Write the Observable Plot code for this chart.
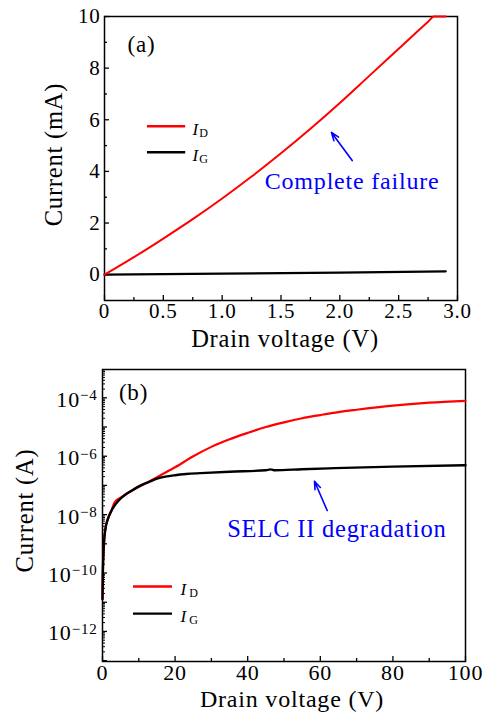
<!DOCTYPE html>
<html><head><meta charset="utf-8">
<script src="https://cdn.jsdelivr.net/npm/d3@7"></script>
<script src="https://cdn.jsdelivr.net/npm/@observablehq/plot@0.6"></script>
<style>
body{margin:0;background:#fff;}
#chart{width:486px;height:712px;overflow:hidden;}
#chart svg{display:block;}
</style></head><body><div id="chart"></div>
<script>
// ---------- Panel (a) data: linear current in mA ----------
const voltageA_D = [0, 0.25, 0.5, 0.75, 1.0, 1.25, 1.5, 1.75, 2.0, 2.25, 2.5, 2.75, 2.8, 2.9];
const currentA_D = [0, 0.68, 1.4, 2.15, 2.95, 3.8, 4.7, 5.65, 6.65, 7.7, 8.75, 9.8, 10, 10];
const voltageA_G = [0, 1.0, 2.0, 2.9];
const currentA_G = [0, 0.04, 0.08, 0.13];
const xTicksA = [0, 0.5, 1.0, 1.5, 2.0, 2.5, 3.0];
const xMinorA = [0.25, 0.75, 1.25, 1.75, 2.25, 2.75];
const yTicksA = [0, 2, 4, 6, 8, 10];
const yMinorA = [1, 3, 5, 7, 9];

// ---------- Panel (b) data: log current in A ----------
const voltageB_D = [0, 0.1, 0.3, 0.6, 1.0, 1.6, 2.2, 3.3, 5, 8, 12, 16, 20, 25, 30, 35, 40, 45, 50, 55, 60, 65, 70, 80, 90, 100];
const currentB_D = [1.3e-11, 1e-10, 5e-10, 2e-9, 4.5e-9, 7.9e-9, 1.12e-8, 2.6e-8, 3.8e-8, 6.6e-8, 1.2e-7, 2.24e-7, 4.17e-7, 1.0e-6, 2.09e-6, 3.8e-6, 6.3e-6, 1.0e-5, 1.45e-5, 2.0e-5, 2.57e-5, 3.24e-5, 3.9e-5, 5.4e-5, 6.8e-5, 7.9e-5];
const voltageB_G = [0, 0.1, 0.28, 0.73, 1.65, 3.0, 4.4, 6, 8, 10, 12.7, 15, 17.3, 20, 23, 27, 35, 45, 46.3, 47.5, 55, 64, 80, 100];
const currentB_G = [1.3e-11, 1e-10, 5.9e-10, 2.8e-9, 8.1e-9, 1.78e-8, 3.0e-8, 4.5e-8, 6.6e-8, 9.3e-8, 1.3e-7, 1.7e-7, 2.0e-7, 2.24e-7, 2.45e-7, 2.63e-7, 2.95e-7, 3.3e-7, 3.55e-7, 3.3e-7, 3.6e-7, 3.9e-7, 4.4e-7, 4.9e-7];
const xTicksB = [0, 20, 40, 60, 80, 100];
const xMinorB = [10, 30, 50, 70, 90];
const yDecadesB = [-13, -12, -11, -10, -9, -8, -7, -6, -5, -4];
const yLabeledB = [-12, -10, -8, -6, -4];

// ---------- texts ----------
const xTitle = "Drain voltage (V)";
const yTitleA = "Current (mA)";
const yTitleB = "Current (A)";
const panelA = "(a)", panelB = "(b)";
const noteA = "Complete failure";
const noteB = "SELC II degradation";
const seriesNames = ["D", "G"];
const seriesColors = ["#ff0000", "#000000"];

const FONT = "Liberation Serif";
const BLUE = "#0000ff";

const rows = (xs, ys) => xs.map((x, i) => ({x, y: ys[i]}));

function legendMarks(xStart, xEnd, yVals, labelX, subX) {
  const items = seriesNames.map((s, i) => ({s, c: seriesColors[i], y: yVals[i]}));
  return [
    Plot.ruleY(items, {y: "y", x1: xStart, x2: xEnd, stroke: "c", strokeWidth: 2.4}),
    Plot.text(items, {x: labelX, y: "y", text: () => "I", fontStyle: "italic", fontSize: 17, textAnchor: "start", lineAnchor: "middle", dy: 3, fill: "black"}),
    Plot.text(items, {x: subX, y: "y", text: "s", fontSize: 12, textAnchor: "start", lineAnchor: "middle", dy: 7, fill: "black"})
  ];
}

// ----- Panel (a) -----
const plotA = Plot.plot({
  width: 486, height: 356,
  marginTop: 16, marginRight: 29, marginBottom: 56, marginLeft: 104,
  style: {fontFamily: FONT, fontSize: "21px", background: "white", color: "black", overflow: "visible", letterSpacing: "0.8px"},
  x: {domain: [0, 3]},
  y: {domain: [-1, 10]},
  marks: [
    Plot.frame({stroke: "black", strokeWidth: 1.5}),
    Plot.axisX({ticks: xTicksA, tickSize: 0, tickPadding: 3, tickFormat: d => d === 0 ? "0" : d.toFixed(1), label: null}),
    Plot.axisX({ticks: xTicksA, tickSize: -5, tickFormat: () => "", label: null, strokeWidth: 1.3}),
    Plot.axisX({ticks: xMinorA, tickSize: -3, tickFormat: () => "", label: null, strokeWidth: 1.3}),
    Plot.axisY({ticks: yTicksA, tickSize: 0, tickPadding: 4, tickFormat: d => String(d), label: null}),
    Plot.axisY({ticks: yTicksA, tickSize: -5, tickFormat: () => "", label: null, strokeWidth: 1.3}),
    Plot.axisY({ticks: yMinorA, tickSize: -3, tickFormat: () => "", label: null, strokeWidth: 1.3}),
    Plot.line(rows(voltageA_G, currentA_G), {x: "x", y: "y", stroke: "#000", strokeWidth: 2.2}),
    Plot.line(rows(voltageA_D, currentA_D), {x: "x", y: "y", stroke: "#ff0000", strokeWidth: 2, curve: "monotone-x"}),
    Plot.text([panelA], {x: 0.314, y: 8.9, text: d => d, fontSize: 23, fill: "black"}),
    Plot.text([noteA], {x: 1.362, y: 3.61, text: d => d, fontSize: 24, textAnchor: "start", fill: BLUE}),
    Plot.arrow([0], {x1: 2.105, y1: 4.42, x2: 1.929, y2: 5.51, stroke: BLUE, strokeWidth: 1.6, headLength: 8, headAngle: 40}),
    ...legendMarks(0.365, 0.69, [5.75, 4.74], 0.748, 0.805),
    Plot.text([xTitle], {frameAnchor: "bottom", lineAnchor: "middle", textAnchor: "middle", dy: 39, dx: 4, text: d => d, fontSize: 24.5, fill: "black"}),
    Plot.text([yTitleA], {frameAnchor: "left", lineAnchor: "middle", textAnchor: "middle", dx: -50, dy: -4, rotate: -90, text: d => d, fontSize: 24.5, fill: "black"})
  ]
});

// ----- Panel (b) -----
const plotB = Plot.plot({
  width: 486, height: 356,
  marginTop: 13, marginRight: 21, marginBottom: 51, marginLeft: 102,
  style: {fontFamily: FONT, fontSize: "22px", background: "white", color: "black", overflow: "visible", letterSpacing: "0.8px"},
  x: {domain: [0, 100]},
  y: {type: "log", domain: [Math.pow(10, -13.03), Math.pow(10, -3.03)]},
  marks: [
    Plot.frame({stroke: "black", strokeWidth: 1.5}),
    Plot.axisX({ticks: xTicksB, tickSize: 0, tickPadding: 3, tickFormat: d => String(d), label: null}),
    Plot.axisX({ticks: xTicksB, tickSize: -5, tickFormat: () => "", label: null, strokeWidth: 1.3}),
    Plot.axisX({ticks: xMinorB, tickSize: -3, tickFormat: () => "", label: null, strokeWidth: 1.3}),
    Plot.axisY({ticks: yLabeledB.map(e => Math.pow(10, e)), tickSize: 0, tickPadding: 5, dy: 2,
      tickFormat: d => "10^" + String(Math.round(Math.log10(d))).replace("-", "\u2212"), label: null}),
    Plot.axisY({ticks: yDecadesB.map(e => Math.pow(10, e)), tickSize: -5, tickFormat: () => "", label: null, strokeWidth: 1.3}),
    Plot.axisY({ticks: yDecadesB.flatMap(e => [2,3,4,5,6,7,8,9].map(k => k * Math.pow(10, e))).filter(v => v < Math.pow(10, -3.03)),
      tickSize: -3, tickFormat: () => "", label: null, strokeWidth: 1}),
    Plot.line(rows(voltageB_D, currentB_D), {x: "x", y: "y", stroke: "#ff0000", strokeWidth: 2.2, curve: "monotone-x"}),
    Plot.line(rows(voltageB_G, currentB_G), {x: "x", y: "y", stroke: "#000", strokeWidth: 2.4, curve: "monotone-x"}),
    Plot.text([panelB], {x: 8.54, y: 1.55e-4, text: d => d, fontSize: 23, fill: "black"}),
    Plot.text([noteB], {x: 34.35, y: 3.09e-9, text: d => d, fontSize: 24.5, textAnchor: "start", fill: BLUE}),
    Plot.arrow([0], {x1: 61.9, y1: 1.38e-8, x2: 58.4, y2: 1.39e-7, stroke: BLUE, strokeWidth: 1.6, headLength: 8, headAngle: 40}),
    ...legendMarks(8.54, 19.28, [3.47e-11, 4.07e-12], 21.5, 23.9),
    Plot.text([xTitle], {frameAnchor: "bottom", lineAnchor: "middle", textAnchor: "middle", dy: 38, dx: 8, text: d => d, fontSize: 24, fill: "black"}),
    Plot.text([yTitleB], {frameAnchor: "left", lineAnchor: "middle", textAnchor: "middle", dx: -77, dy: -5, rotate: -90, text: d => d, fontSize: 24.5, fill: "black"})
  ]
});

// superscripts for log tick labels
d3.select(plotB).selectAll("text").each(function() {
  const t = this.textContent;
  if (t.startsWith("10^")) {
    const exp = t.slice(3);
    const sel = d3.select(this);
    sel.text("10");
    sel.append("tspan").attr("dy", "-0.45em").attr("font-size", "15px").text(exp);
  }
});

const root = document.getElementById("chart");
root.appendChild(plotA);
root.appendChild(plotB);
</script></body></html>
